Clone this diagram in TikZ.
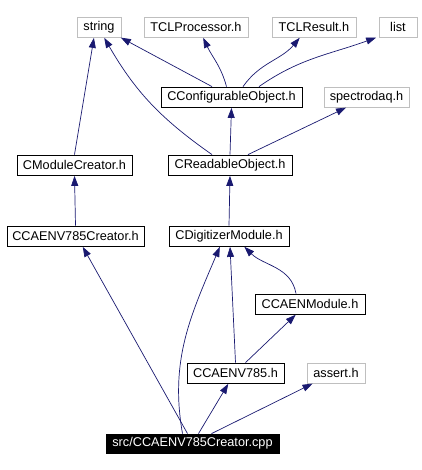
\documentclass[tikz,border=0pt]{standalone}
\usepackage{fontspec}
\setmainfont{Liberation Sans}
\usetikzlibrary{arrows.meta}
\definecolor{edgeblue}{RGB}{25,25,112}
\definecolor{sysgray}{RGB}{191,191,191}

\begin{document}
\begin{tikzpicture}[x=1pt,y=-1pt,
    font=\fontsize{12.7}{15}\selectfont,
    file/.style={draw, line width=.8pt, minimum height=20pt, inner sep=0pt},
    sys/.style={file, draw=sysgray},
    src/.style={file, fill=black, text=white, minimum height=19pt},
    dep/.style={draw=edgeblue, line width=.7pt,
      -{Triangle[length=10pt,width=7pt]}, shorten >=.5pt}]
          \useasboundingbox (0,0) rectangle (421,470);
          % include graph
          \node (str)   at (99,27)    [sys, minimum width=44pt]  {string};
          \node (tclp)  at (196,27)   [sys, minimum width=104pt] {TCLProcessor.h};
          \node (tclr)  at (314,27)   [sys, minimum width=84pt]  {TCLResult.h};
          \node (lst)   at (398,27)   [sys, minimum width=38pt]  {list};
          \node (cfg)   at (231.5,97) [file, minimum width=141pt] {CConfigurableObject.h};
          \node (spd)   at (366.5,97) [sys, minimum width=85pt]  {spectrodaq.h};
          \node (mc)    at (74.5,165) [file, minimum width=115pt] {CModuleCreator.h};
          \node (rd)    at (230,165)  [file, minimum width=124pt] {CReadableObject.h};
          \node (v785c) at (75.5,236) [file, minimum width=137pt] {CCAENV785Creator.h};
          \node (dig)   at (229,236)  [file, minimum width=120pt] {CDigitizerModule.h};
          \node (camod) at (310,304)  [file, minimum width=110pt] {CCAENModule.h};
          \node (v785)  at (235.5,373) [file, minimum width=97pt] {CCAENV785.h};
          \node (asrt)  at (336,373)  [sys, minimum width=58pt]  {assert.h};
          \node (cpp)   at (192.5,443.5) [src, minimum width=173pt] {src/CCAENV785Creator.cpp};
          \draw[dep] ([xshift=-19.5pt]cfg.north) to ([xshift=-1pt]str.south east);
          \draw[dep] ([xshift=-5pt]cfg.north) to [out=105, in=-65] ([xshift=7pt]tclp.south);
          \draw[dep] ([xshift=11.5pt]cfg.north) to [out=55, in=-130] ([xshift=-14pt]tclr.south);
          \draw[dep] ([xshift=27.5pt]cfg.north) to [out=35, in=-160] ([xshift=-2pt]lst.south west);
          \draw[dep] (rd.north) to (cfg.south);
          \draw[dep] ([xshift=18pt]rd.north) to ([xshift=-20pt]spd.south);
          \draw[dep] ([xshift=-18pt]rd.north) to [out=145, in=-60] ([xshift=5pt]str.south);
          \draw[dep] (mc.north) to ([xshift=-5pt]str.south);
          \draw[dep] (v785c.north) to (mc.south);
          \draw[dep] (dig.north) to (rd.south);
          \draw[dep] ([xshift=-5pt]cpp.north) to ([xshift=7pt]v785c.south);
          \draw[dep] ([xshift=-10pt]cpp.north) to [out=100, in=-113] ([xshift=-9pt]dig.south);
          \draw[dep] (v785.north) to ([xshift=1pt]dig.south);
          \draw[dep] ([xshift=-14pt]camod.north) to [out=100, in=-45] ([xshift=15pt]dig.south);
          \draw[dep] ([xshift=10pt]v785.north) to ([xshift=-14pt]camod.south);
          \draw[dep] ([xshift=6pt]cpp.north) to ([xshift=-7pt]v785.south);
          \draw[dep] ([xshift=19pt]cpp.north) to ([xshift=-23pt]asrt.south);
\end{tikzpicture}
\end{document}
